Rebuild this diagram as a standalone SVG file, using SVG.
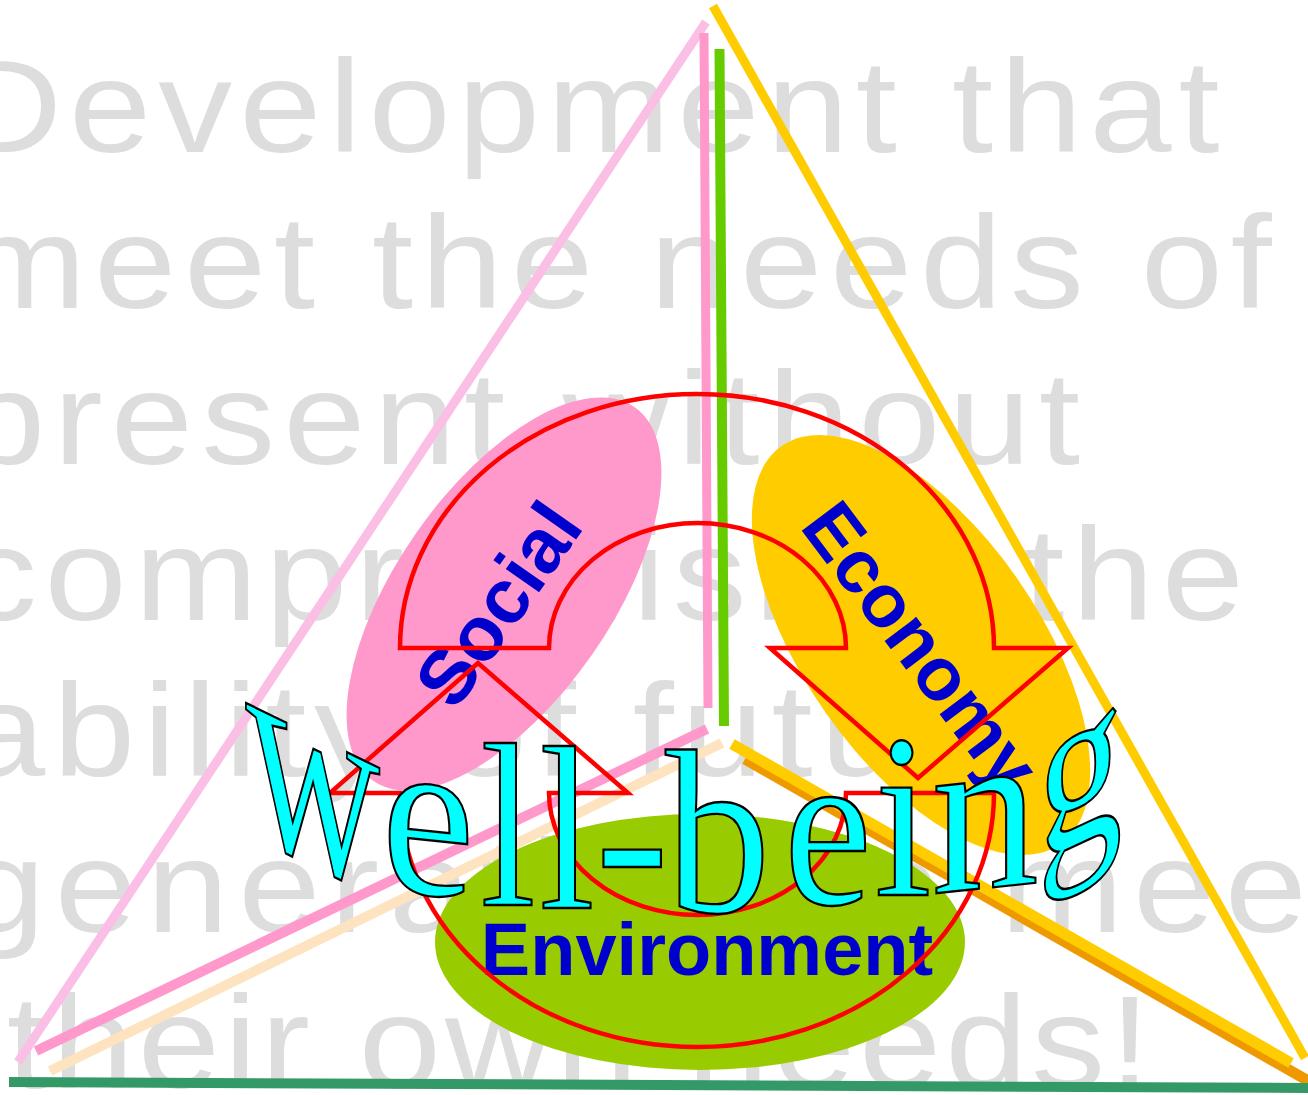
<svg xmlns="http://www.w3.org/2000/svg" width="1308" height="1095" viewBox="0 0 1308 1095">
<style>
.bg{font-family:"Liberation Sans",Arial,sans-serif;font-size:132px;fill:#dddddd;letter-spacing:7px}
.lbl{font-family:"Liberation Sans",Arial,sans-serif;font-weight:bold;fill:#0000cc;text-anchor:middle}
.ln{fill:none;stroke-linecap:butt}
.arr{fill:none;stroke:#ff0000;stroke-width:4.5;stroke-linejoin:miter}
.wb{font-family:"Liberation Serif","Times New Roman",serif;font-size:233px;fill:#00ffff;stroke:#000000;stroke-width:2.2;text-anchor:middle}
.wb text{vector-effect:non-scaling-stroke}
</style>
<rect width="1308" height="1095" fill="#ffffff"/>
<g id="background-text" transform="scale(1.12,1)">
<text class="bg" x="-40" y="152" style="letter-spacing:6.3px">Development that</text>
<text class="bg" x="-33" y="308">meet the needs of t</text>
<text class="bg" x="-33" y="464" style="letter-spacing:7.3px">present without</text>
<text class="bg" x="-33" y="620" style="letter-spacing:6.8px">compromising the</text>
<text class="bg" x="-33" y="776">ability of future</text>
<text class="bg" x="-33" y="932" style="letter-spacing:8.5px">generation to mee</text>
<text class="bg" x="6" y="1088" style="letter-spacing:3.5px">their own needs!</text>
</g>
<g id="social">
<ellipse cx="0" cy="0" rx="107" ry="228" fill="#ff99cc" transform="translate(504,594) rotate(35)"/>
</g>
<g id="economy">
<ellipse cx="0" cy="0" rx="117" ry="243" fill="#ffcc00" transform="translate(921,645) rotate(-35)"/>
</g>
<g id="environment">
<ellipse cx="700" cy="942" rx="265" ry="128" fill="#99cc00"/>
</g>
<g id="connectors">
<line class="ln" x1="706" y1="22" x2="18" y2="1062" stroke="#fbbfe6" stroke-width="9"/>
<line class="ln" x1="713" y1="6" x2="1305" y2="1058" stroke="#ffcc00" stroke-width="9"/>
<line class="ln" x1="704" y1="33" x2="708" y2="708" stroke="#ff99cc" stroke-width="9"/>
<line class="ln" x1="719.5" y1="49" x2="724" y2="726" stroke="#66cc00" stroke-width="10"/>
<line class="ln" x1="707" y1="729" x2="36" y2="1051" stroke="#ff99cc" stroke-width="10"/>
<line class="ln" x1="722" y1="743" x2="50" y2="1071" stroke="#fde3bf" stroke-width="10"/>
<line class="ln" x1="745" y1="759" x2="1312" y2="1083" stroke="#ee9900" stroke-width="11"/>
<line class="ln" x1="732" y1="744" x2="1291" y2="1063" stroke="#ffcc00" stroke-width="11"/>
<line class="ln" x1="9" y1="1082" x2="1308" y2="1088" stroke="#339966" stroke-width="10"/>
</g>
<g id="labels">
<text class="lbl" font-size="77" dominant-baseline="central" transform="translate(498,604) rotate(-55)">Social</text>
<text class="lbl" font-size="75" dominant-baseline="central" transform="translate(921,646) rotate(53)">Economy</text>
<text class="lbl" font-size="74" x="707" y="975">Environment</text>
</g>
<g id="cycle-arrows">
<path class="arr" d="M 400 648 A 297 254 0 0 1 994 648 L 1068 648 L 918 778 L 770 648 L 846 648 A 148.5 125 0 0 0 549 648 Z"/>
<path class="arr" d="M 846 793 L 994 793 A 297 254 0 0 1 400 793 L 330 793 L 478 663 L 628 793 L 549 793 A 148.5 122 0 0 0 846 793 Z"/>
</g>
<g id="well-being" class="wb">
<text transform="translate(313,864) skewY(26) scale(0.8,1.2)">w</text>
<text transform="translate(428,894) skewY(6) scale(0.9,1)">e</text>
<text transform="translate(508,905) scale(0.85,1)">l</text>
<text transform="translate(567,908) scale(0.85,1)">l</text>
<text transform="translate(632,913) scale(0.95,1)">-</text>
<text transform="translate(718,912) scale(0.9,1)">b</text>
<text transform="translate(828,904) scale(0.85,0.97)">e</text>
<text transform="translate(903,895) scale(0.88,1)">i</text>
<text transform="translate(985,888) skewY(-6) scale(0.92,1)">n</text>
<text transform="translate(1080,843) skewY(-25) scale(0.73,1)">g</text>
</g>
</svg>
